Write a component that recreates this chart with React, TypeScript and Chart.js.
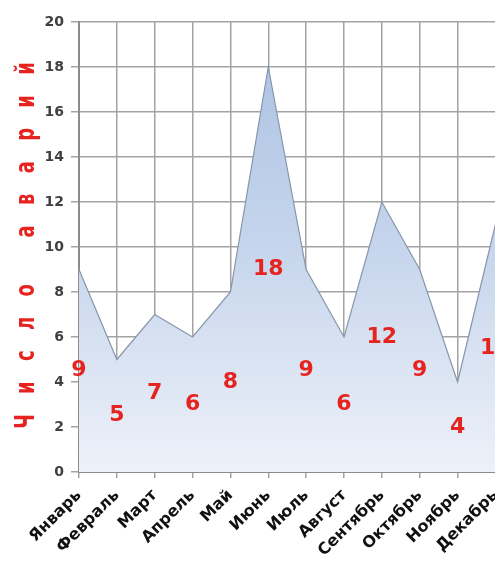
import React, { useEffect, useRef } from "react";
import { Chart, registerables } from "chart.js";

Chart.register(...registerables);

const months = ["Январь", "Февраль", "Март", "Апрель", "Май", "Июнь", "Июль", "Август", "Сентябрь", "Октябрь", "Ноябрь", "Декабрь"];
const accidents = [9, 5, 7, 6, 8, 18, 9, 6, 12, 9, 4, 11];
const yTitle = "Число аварий";
const yMin = 0;
const yMax = 20;
const yStep = 2;

const RED = "#e5231f";
const FONT = "'DejaVu Sans', Verdana, sans-serif";

const labelPlugin = {
  id: "centerLabels",
  afterDatasetsDraw(chart: any) {
    const ctx = chart.ctx;
    const xs = chart.scales.x;
    const ys = chart.scales.y;
    ctx.save();
    ctx.fillStyle = RED;
    ctx.font = `bold 22px ${FONT}`;
    ctx.textAlign = "center";
    ctx.textBaseline = "middle";
    accidents.forEach((v, i) => {
      ctx.fillText(String(v), xs.getPixelForValue(i), ys.getPixelForValue(v / 2));
    });
    ctx.restore();
  },
};

const titlePlugin = {
  id: "spacedTitle",
  afterDraw(chart: any) {
    const ctx = chart.ctx;
    const area = chart.chartArea;
    const chars = Array.from(yTitle);
    ctx.save();
    ctx.fillStyle = RED;
    ctx.font = `bold 18px ${FONT}`;
    const widths = chars.map((c) => ctx.measureText(c).width);
    const span = 353;
    const inner = widths.reduce((a, b) => a + b, 0) - widths[0] / 2 - widths[widths.length - 1] / 2;
    const gap = (span - inner) / (chars.length - 1);
    const center = (area.top + area.bottom) / 2 - 2;
    let y = center + span / 2;
    ctx.textAlign = "center";
    ctx.textBaseline = "alphabetic";
    chars.forEach((c, i) => {
      ctx.save();
      ctx.translate(34, y);
      ctx.rotate(-Math.PI / 2);
      ctx.scale(1, 1.45);
      ctx.fillText(c, 0, 0);
      ctx.restore();
      if (i < chars.length - 1) y -= widths[i] / 2 + gap + widths[i + 1] / 2;
    });
    ctx.restore();
  },
};

export default function App() {
  const ref = useRef<HTMLCanvasElement>(null);
  useEffect(() => {
    if (!ref.current) return;
    const chart = new Chart(ref.current, {
      type: "line",
      data: {
        labels: months,
        datasets: [
          {
            data: accidents,
            fill: "origin",
            tension: 0,
            pointRadius: 0,
            borderColor: "#8796aa",
            borderWidth: 1.2,
            backgroundColor: (c: any) => {
              const a = c.chart.chartArea;
              if (!a) return "#c8d6ec";
              const g = c.chart.ctx.createLinearGradient(0, a.top, 0, a.bottom);
              g.addColorStop(0, "#a9c0e2");
              g.addColorStop(0.5, "#c6d5ec");
              g.addColorStop(1, "#edf1f9");
              return g;
            },
          },
        ],
      },
      options: {
        responsive: false,
        animation: false,
        devicePixelRatio: 1,
        layout: { padding: { top: 22, right: 20, bottom: 0, left: 0 } },
        plugins: { legend: { display: false }, tooltip: { enabled: false } },
        scales: {
          x: {
            offset: false,
            grid: { color: "#a3a3a3", lineWidth: 1.5, tickLength: 6 },
            border: { color: "#8c8c8c", width: 2 },
            ticks: {
              maxRotation: 45,
              minRotation: 45,
              autoSkip: false,
              color: "#111111",
              padding: 8,
              font: { family: FONT, size: 16, weight: "bold" },
            },
            afterFit: (s: any) => {
              s.height = 101;
            },
          },
          y: {
            min: yMin,
            max: yMax,
            grid: { color: "#a3a3a3", lineWidth: 1.5, tickLength: 8 },
            border: { color: "#8c8c8c", width: 2 },
            ticks: {
              stepSize: yStep,
              color: "#404040",
              padding: 7,
              font: { family: FONT, size: 14, weight: "bold" },
            },
            afterFit: (s: any) => {
              s.width = 79;
            },
          },
        },
      },
      plugins: [labelPlugin, titlePlugin],
    });
    return () => chart.destroy();
  }, []);
  return (
    <div style={{ position: "fixed", left: 0, top: 0, width: 495, height: 573, overflow: "hidden", background: "#fff" }}>
      <canvas ref={ref} width={517} height={573} style={{ display: "block", width: 517, height: 573 }} />
    </div>
  );
}
